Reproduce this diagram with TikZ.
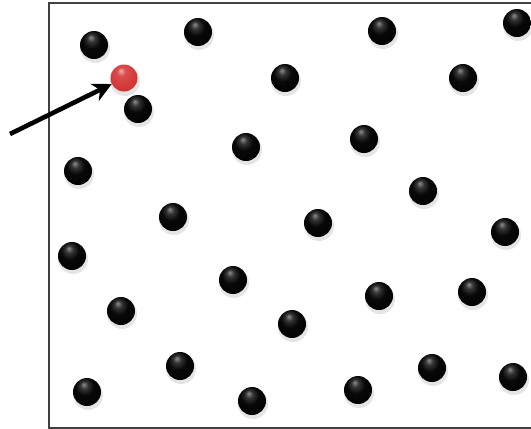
\documentclass[tikz,border=0pt]{standalone}
\usetikzlibrary{arrows.meta}
\pgfdeclareradialshading{blackshade}{\pgfpoint{-6bp}{14bp}}{%
  color(0bp)=(black!45);color(7bp)=(black!80);color(16bp)=(black!97);color(40bp)=(black);color(50bp)=(black!85)}
\definecolor{ballred}{RGB}{214,58,58}
\pgfdeclareradialshading{redshade}{\pgfpoint{-6bp}{14bp}}{%
  color(0bp)=(ballred!40!white);color(8bp)=(ballred!90!white);color(22bp)=(ballred);color(42bp)=(ballred!85!black);color(50bp)=(ballred!60!black)}
\begin{document}
\begin{tikzpicture}[x=1pt,y=-1pt,
  ballbase/.style={circle,inner sep=0pt,minimum size=28pt},
  blackball/.style={ballbase,shading=blackshade},
  redball/.style={ballbase,minimum size=27pt,shading=redshade},
  ballshadow/.style={fill=black,opacity=0.10},
  framebox/.style={draw=black!75,line width=1.8pt},
  pointer/.style={line width=4.6pt,-{Stealth[length=19pt,width=19pt,inset=6pt]}}]
\useasboundingbox (0,0) rectangle (531,429);
\fill[white] (0,0) rectangle (531,429);
\begin{scope}
\clip (0,0) rectangle (531,429);
\draw[framebox] (49,3) rectangle (545,428);
\end{scope}
% shadows
\foreach \x/\y in {94/45,198/32,382/31,517/23,285/78,463/78,138/109,246/147,364/139,78/171,423/191,173/217,318/223,505/232,72/256,233/280,379/296,472/292,121/311,292/324,180/366,432/368,87/392,252/401,358/390,513/377,124/78}
  \fill[ballshadow] (\x+1,\y+3) circle (15pt);
\node[blackball] (b1) at (94,45) {};
\node[blackball] (b2) at (198,32) {};
\node[blackball] (b3) at (382,31) {};
\node[blackball] (b4) at (517,23) {};
\node[blackball] (b5) at (285,78) {};
\node[blackball] (b6) at (463,78) {};
\node[blackball] (b7) at (138,109) {};
\node[blackball] (b8) at (246,147) {};
\node[blackball] (b9) at (364,139) {};
\node[blackball] (b10) at (78,171) {};
\node[blackball] (b11) at (423,191) {};
\node[blackball] (b12) at (173,217) {};
\node[blackball] (b13) at (318,223) {};
\node[blackball] (b14) at (505,232) {};
\node[blackball] (b15) at (72,256) {};
\node[blackball] (b16) at (233,280) {};
\node[blackball] (b17) at (379,296) {};
\node[blackball] (b18) at (472,292) {};
\node[blackball] (b19) at (121,311) {};
\node[blackball] (b20) at (292,324) {};
\node[blackball] (b21) at (180,366) {};
\node[blackball] (b22) at (432,368) {};
\node[blackball] (b23) at (87,392) {};
\node[blackball] (b24) at (252,401) {};
\node[blackball] (b25) at (358,390) {};
\node[blackball] (b26) at (513,377) {};
\node[redball] (red) at (124,78) {};
\coordinate (tail) at (10,134);
\draw[pointer] (tail) -- (red);
\end{tikzpicture}
\end{document}
